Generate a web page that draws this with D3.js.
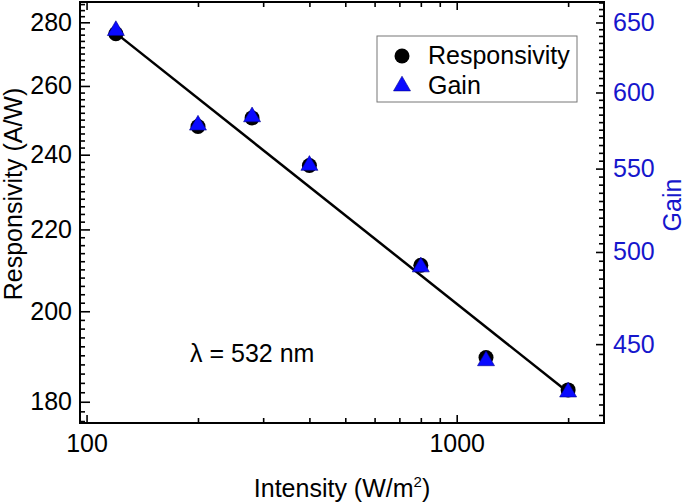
<!DOCTYPE html>
<html><head><meta charset="utf-8">
<script src="https://cdn.jsdelivr.net/npm/d3@7"></script>
<style>
html,body{margin:0;padding:0;background:#fff;}
svg{display:block;font-family:"Liberation Sans",Arial,sans-serif;}
</style></head>
<body>
<svg id="chart" width="685" height="502"></svg>
<script>
// ---- data ----
const intensity = [120, 200, 280, 400, 800, 1200, 2000];
const responsivity = [276.3, 248, 250.5, 237, 211, 189.5, 182.5];
const gain = [644, 578, 583.5, 552, 491.5, 441.5, 426];
const fitIntensity = [120, 2000];
const fitResponsivity = [276.5, 182];
const xTicks = [100, 1000];
const xMinor = [200, 300, 400, 500, 600, 700, 800, 900, 2000];
const leftTicks = [180, 200, 220, 240, 260, 280];
const rightTicks = [450, 500, 550, 600, 650];
const seriesNames = ["Responsivity", "Gain"];

const W = 685, H = 502;
const m = {left: 80, right: 604, top: 2, bottom: 423};
const blue = "#1616cc";

const svg = d3.select("#chart");
const x = d3.scaleLog().domain([96, 2500]).range([m.left, m.right]);
const yL = d3.scaleLog().domain([175.6, 286.7]).range([m.bottom, m.top]);
const yR = d3.scaleLog().domain([411.2, 665.4]).range([m.bottom, m.top]);

const leftMinor = d3.range(176, 287, 2).filter(v => !leftTicks.includes(v));
const rightMinor = d3.range(415, 666, 5).filter(v => !rightTicks.includes(v));

function styleAxis(g, color) {
  g.select(".domain").remove();
  g.selectAll("line").attr("stroke", "#000").attr("stroke-width", 1.6);
  g.selectAll("text").attr("font-size", 25).attr("fill", color || "#000")
    .attr("font-family", "'Liberation Sans', Arial, sans-serif");
}

// bottom axis
svg.append("g").attr("transform", `translate(0,${m.bottom})`)
  .call(d3.axisBottom(x).tickValues(xTicks).tickFormat(d3.format("d")).tickSize(-8).tickPadding(11))
  .call(g => styleAxis(g));
svg.append("g").attr("transform", `translate(0,${m.bottom})`)
  .call(d3.axisBottom(x).tickValues(xMinor).tickFormat("").tickSize(-5))
  .call(g => styleAxis(g));
// top axis
svg.append("g").attr("transform", `translate(0,${m.top})`)
  .call(d3.axisTop(x).tickValues(xTicks).tickFormat("").tickSize(-8))
  .call(g => styleAxis(g));
svg.append("g").attr("transform", `translate(0,${m.top})`)
  .call(d3.axisTop(x).tickValues(xMinor).tickFormat("").tickSize(-5))
  .call(g => styleAxis(g));
// left axis
svg.append("g").attr("transform", `translate(${m.left},0)`)
  .call(d3.axisLeft(yL).tickValues(leftTicks).tickFormat(d3.format("d")).tickSize(-10).tickPadding(8))
  .call(g => styleAxis(g));
svg.append("g").attr("transform", `translate(${m.left},0)`)
  .call(d3.axisLeft(yL).tickValues(leftMinor).tickFormat("").tickSize(-5))
  .call(g => styleAxis(g));
// right axis
svg.append("g").attr("transform", `translate(${m.right},0)`)
  .call(d3.axisRight(yR).tickValues(rightTicks).tickFormat(d3.format("d")).tickSize(-8).tickPadding(9))
  .call(g => styleAxis(g, blue));
svg.append("g").attr("transform", `translate(${m.right},0)`)
  .call(d3.axisRight(yR).tickValues(rightMinor).tickFormat("").tickSize(-5))
  .call(g => styleAxis(g));

// frame
svg.append("rect").attr("x", m.left).attr("y", m.top)
  .attr("width", m.right - m.left).attr("height", m.bottom - m.top)
  .attr("fill", "none").attr("stroke", "#000").attr("stroke-width", 2);

// fit line
const fitData = fitIntensity.map((d, i) => [d, fitResponsivity[i]]);
svg.append("path").datum(fitData)
  .attr("d", d3.line().x(d => x(d[0])).y(d => yL(d[1])))
  .attr("fill", "none").attr("stroke", "#000").attr("stroke-width", 2.5);

// responsivity circles
svg.append("g").selectAll("circle").data(intensity).join("circle")
  .attr("cx", d => x(d)).attr("cy", (d, i) => yL(responsivity[i])).attr("r", 7.5)
  .attr("fill", "#000");

// gain triangles
const tri = d3.symbol().type(d3.symbolTriangle).size(125);
svg.append("g").selectAll("path").data(intensity).join("path")
  .attr("d", tri)
  .attr("transform", (d, i) => `translate(${x(d)},${yR(gain[i])})`)
  .attr("fill", "#0a0aff").attr("stroke", "#00008b").attr("stroke-width", 0.6);

// legend
const lg = svg.append("g");
lg.append("rect").attr("x", 377).attr("y", 36).attr("width", 200).attr("height", 66)
  .attr("fill", "#fff").attr("stroke", "#777").attr("stroke-width", 1);
lg.append("circle").attr("cx", 402).attr("cy", 56).attr("r", 7.5).attr("fill", "#000");
lg.append("path").attr("d", tri).attr("transform", "translate(402,86)")
  .attr("fill", "#0a0aff").attr("stroke", "#00008b").attr("stroke-width", 0.6);
lg.append("text").attr("x", 428).attr("y", 64).attr("font-size", 25).text(seriesNames[0]);
lg.append("text").attr("x", 428).attr("y", 94).attr("font-size", 25).text(seriesNames[1]);

// annotation
svg.append("text").attr("x", 190).attr("y", 362).attr("font-size", 25).text("λ = 532 nm");

// axis titles
svg.append("text").attr("transform", "translate(22,194) rotate(-90)")
  .attr("text-anchor", "middle").attr("font-size", 25).text("Responsivity (A/W)");
svg.append("text").attr("transform", "translate(681,205) rotate(-90)")
  .attr("text-anchor", "middle").attr("font-size", 25).attr("fill", blue).text("Gain");
const xt = svg.append("text").attr("x", 342).attr("y", 497)
  .attr("text-anchor", "middle").attr("font-size", 25);
xt.append("tspan").text("Intensity (W/m");
xt.append("tspan").attr("font-size", 15).attr("dy", -10).text("2");
xt.append("tspan").attr("dy", 10).text(")");
</script>
</body></html>
